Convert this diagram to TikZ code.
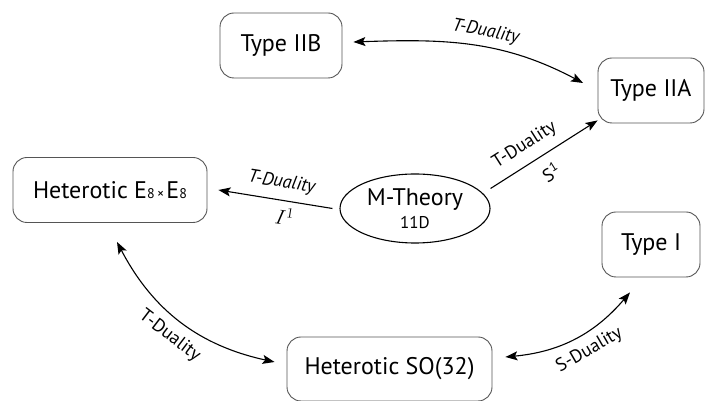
\documentclass[tikz,border=0pt]{standalone}
\usepackage{fontspec}
\setmainfont{PT Sans}
\usetikzlibrary{shapes.geometric, arrows.meta, positioning}
\definecolor{cB}{RGB}{85,85,85}

\begin{document}
\begin{tikzpicture}[x=1pt, y=1pt, line width=1.1pt,
                    >={Stealth[length=12pt, width=9pt, inset=2.5pt]},
                    theory/.style={draw=cB, line width=0.9pt, rounded corners=14pt, minimum height=65pt,
                                   inner sep=0pt, font=\fontsize{24}{28}\selectfont},
                    lbl/.style={font=\fontsize{18.5}{22}\selectfont, sloped}]
    \useasboundingbox (0,0) rectangle (705,401);

    % Node Placements
    \node[theory, minimum width=122pt] (IIB) at (281,355.5) {Type IIB};
    \node[theory, minimum width=106pt] (IIA) at (651,310.5) {Type IIA};
    \node[theory, minimum width=98pt]  (TI)  at (651,156.5) {Type I};
    \node[theory, minimum width=194pt] (E8)  at (110,211)
        {Heterotic E{\fontsize{14}{14}\selectfont 8\,×\,}E{\fontsize{14}{14}\selectfont 8}};
    \node[theory, minimum width=205pt, minimum height=64pt] (SO) at (389.5,32) {Heterotic SO(32)};
    \node[draw, ellipse, line width=1.1pt, minimum width=150pt, minimum height=69pt, inner sep=0pt,
          align=center, font=\fontsize{24}{25}\selectfont] (M) at (415,192.5)
        {M-Theory\\[-2pt]{\fontsize{17}{18}\selectfont 11D}};

    % Dualities
    \path[->]
    ([xshift=-7pt]M.west) edge node [lbl, above=5pt, pos=0.47] {\itshape T-Duality}
                               node [lbl, below=3pt, pos=0.4, font=\fontsize{22}{24}\selectfont] {$I^1$}
                               ([xshift=11pt]E8.east)
    ([yshift=20pt]M.east) edge node [lbl, above=6pt, pos=0.41] {T-Duality}
                               node [lbl, below=7pt, pos=0.47] {S\textsuperscript{1}} ([yshift=3pt]IIA.south west);

    \path[<->]
    ([xshift=11pt, yshift=3.5pt]IIB.east) edge [out=2, in=152] node [lbl, above=3pt, pos=0.55] {\itshape T-Duality}
                                          ([xshift=-14.5pt, yshift=7.5pt]IIA.west)
    ([xshift=7pt, yshift=-19pt]E8.south) edge [bend right=25] node [lbl, below=6pt] {T-Duality}
                                          ([xshift=-12pt, yshift=7pt]SO.west)
    ([xshift=13pt, yshift=12pt]SO.east) edge [bend right=22] node [lbl, below=5pt, pos=0.55] {S-Duality}
                                          ([xshift=-21pt, yshift=-15pt]TI.south);
\end{tikzpicture}
\end{document}
